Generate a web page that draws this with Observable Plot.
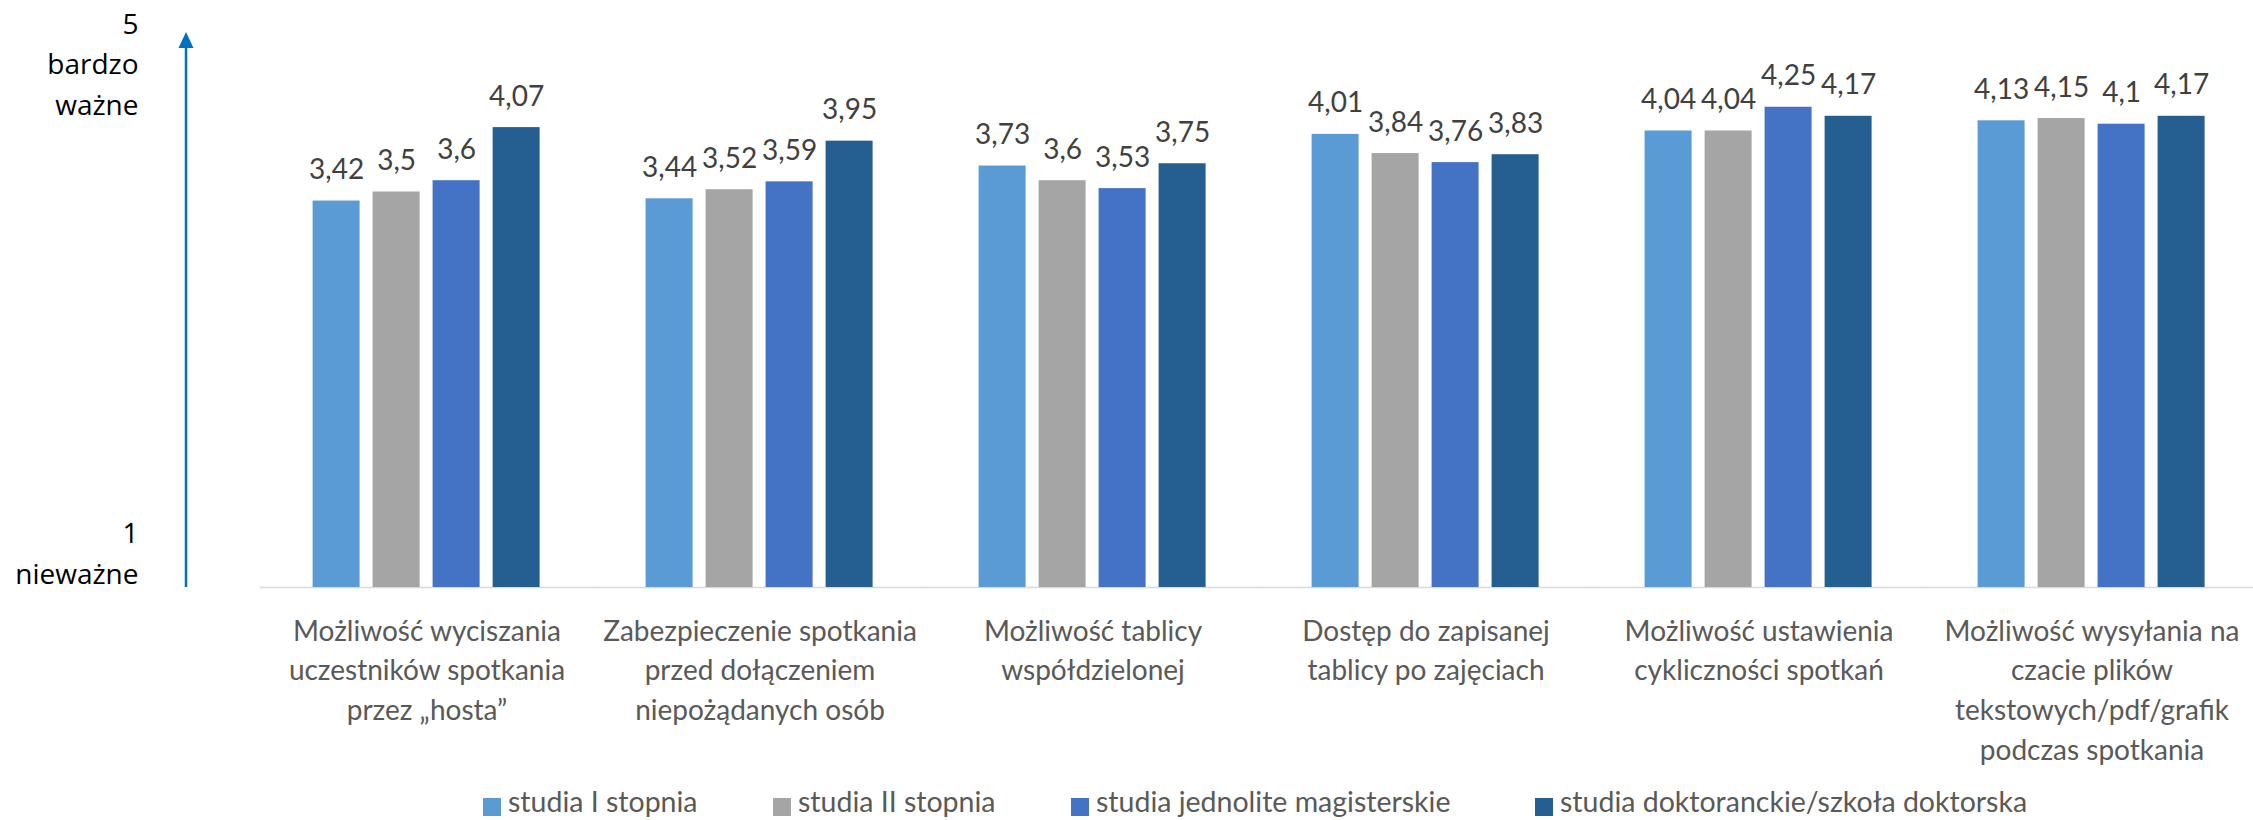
<!DOCTYPE html>
<html><head><meta charset="utf-8">
<script src="https://cdn.jsdelivr.net/npm/d3@7"></script>
<script src="https://cdn.jsdelivr.net/npm/@observablehq/plot@0.6"></script>
<style>
body{margin:0;background:#fff;}
#wrap{position:relative;width:2253px;height:820px;overflow:hidden;background:#fff;}
#chart svg{display:block;}
#legend{position:absolute;left:0;top:780px;width:2253px;height:40px;font-family:Lato,sans-serif;font-size:28.5px;color:#595959;}
.item{position:absolute;top:0;height:40px;}
.sw{position:absolute;top:18px;left:0;width:18px;height:18px;}
.lb{position:absolute;top:7px;left:25px;white-space:nowrap;line-height:29px;}
</style></head><body>
<div id="wrap"><div id="chart"></div><div id="legend"></div></div>
<script>
const categories = [
  "Możliwość wyciszania uczestników spotkania przez „hosta”",
  "Zabezpieczenie spotkania przed dołączeniem niepożądanych osób",
  "Możliwość tablicy współdzielonej",
  "Dostęp do zapisanej tablicy po zajęciach",
  "Możliwość ustawienia cykliczności spotkań",
  "Możliwość wysyłania na czacie plików tekstowych/pdf/grafik podczas spotkania"
];
const tickLabels = [
  "Możliwość wyciszania\nuczestników spotkania\nprzez „hosta”",
  "Zabezpieczenie spotkania\nprzed dołączeniem\nniepożądanych osób",
  "Możliwość tablicy\nwspółdzielonej",
  "Dostęp do zapisanej\ntablicy po zajęciach",
  "Możliwość ustawienia\ncykliczności spotkań",
  "Możliwość wysyłania na\nczacie plików\ntekstowych/pdf/grafik\npodczas spotkania"
];
const series = ["studia I stopnia", "studia II stopnia", "studia jednolite magisterskie", "studia doktoranckie/szkoła doktorska"];
const colors = ["#5B9BD5", "#A5A5A5", "#4472C4", "#255E91"];
const studiaI = [3.42, 3.44, 3.73, 4.01, 4.04, 4.13];
const studiaII = [3.5, 3.52, 3.6, 3.84, 4.04, 4.15];
const studiaJednolite = [3.6, 3.59, 3.53, 3.76, 4.25, 4.1];
const studiaDoktoranckie = [4.07, 3.95, 3.75, 3.83, 4.17, 4.17];
const yTopLabel = "5\nbardzo\nważne";
const yBottomLabel = "1\nnieważne";
const yDomain = [0, 5];

const values = [studiaI, studiaII, studiaJednolite, studiaDoktoranckie];
const data = categories.flatMap((c, i) => series.map((s, j) => ({cat: c, ser: s, v: values[j][i]})));

const fxPadInner = 0.3135, fxPadOuter = 0.1568;
const plot = Plot.plot({
  width: 2253,
  height: 780,
  marginLeft: 258.4,
  marginRight: -6.8,
  marginTop: 22,
  marginBottom: 193,
  style: {fontFamily: "Lato, sans-serif", fontSize: "28px", color: "#595959", background: "white", overflow: "visible"},
  fx: {domain: categories, range: [258.4, 2259.8], paddingInner: fxPadInner, paddingOuter: fxPadOuter, axis: null, label: null},
  x: {domain: series, paddingInner: 0.212, paddingOuter: 0, axis: null, label: null},
  y: {domain: yDomain, axis: null, label: null},
  color: {domain: series, range: colors},
  marks: [
    Plot.ruleY([0], {stroke: "#D9D9D9", strokeWidth: 1.5, insetLeft: -52.3, insetRight: -52.3}),
    Plot.barY(data, {fx: "cat", x: "ser", y: "v", fill: "ser"}),
    Plot.text(data, {fx: "cat", x: "ser", y: "v", text: d => String(d.v).replace(".", ","), dy: -22, lineAnchor: "bottom", fill: "#404040", fontSize: 28}),
    Plot.axisFx({anchor: "bottom", tickSize: 0, tickPadding: 25, tickFormat: d => tickLabels[categories.indexOf(d)], lineAnchor: "top", lineHeight: 1.42, fill: "#595959", fontSize: 28, label: null}),
    Plot.axisY([yDomain[1]], {anchor: "left", tickSize: 0, tickPadding: 174, tickFormat: () => yTopLabel, lineAnchor: "top", lineHeight: 1.46, dy: -18, fill: "#000", fontFamily: "Open Sans", fontSize: 28, label: null}),
    Plot.axisY([yDomain[0]], {anchor: "left", tickSize: 0, tickPadding: 174, tickFormat: () => yBottomLabel, lineAnchor: "bottom", lineHeight: 1.46, dy: -4, fill: "#000", fontFamily: "Open Sans", fontSize: 28, label: null})
  ]
});
document.getElementById("chart").appendChild(plot);

// value axis arrow, placed with the plot's own y scale
const ys = plot.scale("y");
const svg = d3.select(plot);
const axisX = 186, tip = ys.apply(yDomain[1]) + 10;
svg.append("line").attr("x1", axisX).attr("x2", axisX).attr("y1", ys.apply(yDomain[0])).attr("y2", tip + 12)
  .attr("stroke", "#0070C0").attr("stroke-width", 2.5);
svg.append("path").attr("d", `M${axisX - 7.5},${tip + 16}L${axisX},${tip}L${axisX + 7.5},${tip + 16}Z`).attr("fill", "#0070C0");

// legend
const legendX = [483, 773, 1071, 1535];
const lg = document.getElementById("legend");
series.forEach((s, i) => {
  const it = document.createElement("div");
  it.className = "item";
  it.style.left = legendX[i] + "px";
  it.innerHTML = `<div class="sw" style="background:${colors[i]}"></div><div class="lb">${s}</div>`;
  lg.appendChild(it);
});
</script>
</body></html>
